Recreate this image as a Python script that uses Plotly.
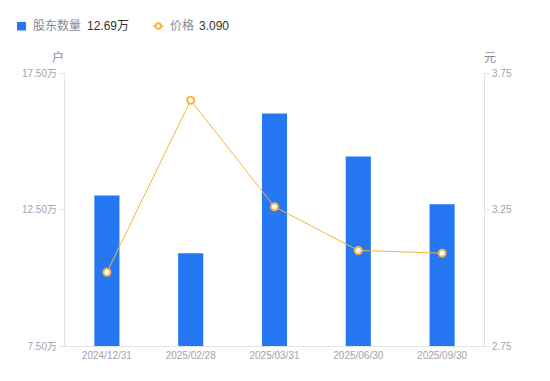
import plotly.graph_objects as go

dates = ["2024/12/31", "2025/02/28", "2025/03/31", "2025/06/30", "2025/09/30"]
holders = [13.01, 10.90, 16.02, 14.44, 12.69]  # 万户
prices = [3.02, 3.65, 3.26, 3.10, 3.09]

left_ticks = [7.5, 12.5, 17.5]
left_tick_text = ["7.50万", "12.50万", "17.50万"]
right_ticks = [2.75, 3.25, 3.75]
right_tick_text = ["2.75", "3.25", "3.75"]

FONT = "Liberation Sans, Arial, Noto Sans CJK SC, sans-serif"
AXIS_COLOR = "#e3e3e6"
TICK_FONT_COLOR = "#a3a3ab"
BAR_COLOR = "#2577F4"
LINE_COLOR = "#F9B43C"
LABEL_COLOR = "#868a96"
VALUE_COLOR = "#333333"

# the page body adds an offset; target screen coordinates are shifted by it
OFFX, OFFY = 8, 7
W, H = 550, 381
SX0, SX1, SY0, SY1 = 65, 484, 72, 345  # plot area in screen pixels
l, r = SX0 - OFFX, W - (SX1 - OFFX)
t, b = SY0 - OFFY, H - (SY1 - OFFY)
pw, ph = SX1 - SX0, SY1 - SY0


def px(x):
    return (x - SX0) / pw


def py(y):
    return (SY1 - y) / ph


fig = go.Figure()
fig.add_trace(go.Bar(
    x=dates, y=holders, name="股东数量",
    marker=dict(color=BAR_COLOR, line=dict(width=0)), width=0.3, yaxis="y",
))
fig.add_trace(go.Scatter(
    x=dates, y=prices, name="价格",
    mode="lines+markers", yaxis="y2",
    line=dict(color=LINE_COLOR, width=1),
    marker=dict(symbol="circle", size=7, color="white", line=dict(color=LINE_COLOR, width=2)),
))

annotations = [
    dict(text="户", x=px(58), y=py(57), xanchor="center", yanchor="middle",
         font=dict(size=12, color=LABEL_COLOR)),
    dict(text="元", x=px(490), y=py(57), xanchor="center", yanchor="middle",
         font=dict(size=12, color=LABEL_COLOR)),
    dict(text="股东数量", x=px(31), y=py(25), xanchor="left", yanchor="middle",
         font=dict(size=12, color=LABEL_COLOR)),
    dict(text=f"{holders[-1]:.2f}万", x=px(85), y=py(25), xanchor="left", yanchor="middle",
         font=dict(size=12, color=VALUE_COLOR)),
    dict(text="价格", x=px(168), y=py(25), xanchor="left", yanchor="middle",
         font=dict(size=12, color=LABEL_COLOR)),
    dict(text=f"{prices[-1]:.3f}", x=px(197), y=py(25), xanchor="left", yanchor="middle",
         font=dict(size=12, color=VALUE_COLOR)),
]
for a in annotations:
    a.update(xref="paper", yref="paper", showarrow=False)

shapes = [
    dict(type="rect", x0=px(17), x1=px(26), y0=py(21), y1=py(29.5),
         fillcolor=BAR_COLOR, line=dict(width=0)),
    dict(type="line", x0=px(153), x1=px(163.5), y0=py(25), y1=py(25),
         line=dict(color=LINE_COLOR, width=1.5)),
    dict(type="circle", x0=px(155.5), x1=px(161), y0=py(22.3), y1=py(27.7),
         fillcolor="white", line=dict(color=LINE_COLOR, width=2)),
]
for s in shapes:
    s.update(xref="paper", yref="paper")

fig.update_layout(
    width=W, height=H,
    margin=dict(l=l, r=r, t=t, b=b, autoexpand=False),
    paper_bgcolor="white", plot_bgcolor="white",
    font=dict(family=FONT, size=12, color=LABEL_COLOR),
    showlegend=False,
    bargap=0.7,
    xaxis=dict(
        type="category", showgrid=False, zeroline=False,
        showline=True, linecolor=AXIS_COLOR, linewidth=1,
        ticks="", tickfont=dict(size=10, color=TICK_FONT_COLOR, family=FONT),
    ),
    yaxis=dict(
        range=[7.5, 17.5], tickvals=left_ticks, ticktext=left_tick_text,
        showgrid=False, zeroline=False, showline=True, linecolor=AXIS_COLOR, linewidth=1,
        ticks="outside", ticklen=5, tickcolor=AXIS_COLOR,
        tickfont=dict(size=10, color=TICK_FONT_COLOR, family=FONT),
    ),
    yaxis2=dict(
        range=[2.75, 3.75], tickvals=right_ticks, ticktext=right_tick_text,
        overlaying="y", side="right",
        showgrid=False, zeroline=False, showline=True, linecolor=AXIS_COLOR, linewidth=1,
        ticks="outside", ticklen=5, tickcolor=AXIS_COLOR,
        tickfont=dict(size=10, color=TICK_FONT_COLOR, family=FONT),
    ),
    annotations=annotations,
    shapes=shapes,
)

fig.write_html("out.html")
